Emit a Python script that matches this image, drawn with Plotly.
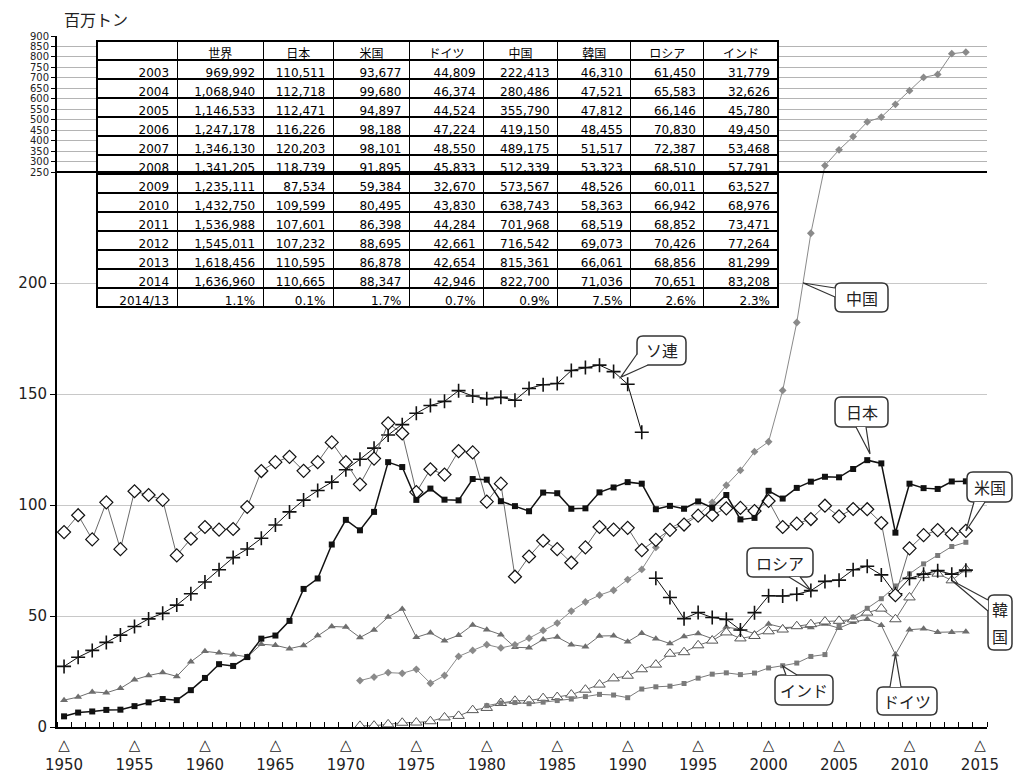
import plotly.graph_objects as go

# ---------------- data (million tonnes) ----------------
japan_1950_2002 = [4.8, 6.5, 7.0, 7.7, 7.8, 9.4, 11.1, 12.6, 12.1, 16.6, 22.1, 28.3, 27.5, 31.5, 39.8,
                   41.2, 47.8, 62.2, 66.9, 82.2, 93.3, 88.6, 96.9, 119.3, 117.1, 102.3, 107.4, 102.4,
                   102.1, 111.7, 111.4, 101.7, 99.5, 97.2, 105.6, 105.3, 98.3, 98.5, 105.7, 107.9,
                   110.3, 109.6, 98.1, 99.6, 98.3, 101.6, 98.8, 104.5, 93.5, 94.2, 106.4, 102.9, 107.7]
usa_1950_2002 = [87.8, 95.4, 84.5, 101.2, 80.1, 106.2, 104.5, 102.3, 77.3, 84.8, 90.1, 88.9, 89.2,
                 99.1, 115.3, 119.3, 121.7, 115.4, 119.3, 128.2, 119.3, 109.3, 120.9, 136.8, 132.2,
                 105.8, 116.1, 113.7, 124.3, 123.7, 101.5, 109.6, 67.7, 76.8, 83.9, 80.1, 74.0, 80.9,
                 90.1, 88.9, 89.7, 79.7, 84.3, 88.8, 91.2, 95.2, 95.5, 98.5, 98.7, 97.3, 101.8, 90.1, 91.6]
ussr_1950_1991 = [27.3, 31.4, 34.5, 38.1, 41.4, 45.3, 48.7, 51.2, 54.9, 60.0, 65.3, 70.8, 76.3, 80.2,
                  85.0, 91.0, 96.9, 102.2, 106.5, 110.3, 115.9, 120.6, 125.6, 131.5, 136.2, 141.3,
                  144.8, 146.7, 151.5, 149.1, 147.9, 148.5, 147.2, 152.5, 154.2, 154.7, 160.6, 161.9,
                  163.0, 160.1, 154.4, 132.8]
russia_1992_2002 = [67.0, 58.3, 48.8, 51.6, 49.3, 48.5, 43.7, 51.5, 59.1, 59.0, 59.8]
germany_1950_2002 = [12.1, 13.5, 15.8, 15.4, 17.4, 21.3, 23.2, 24.5, 22.8, 29.4, 34.1, 33.5, 32.6,
                     31.6, 37.3, 36.8, 35.3, 36.7, 41.2, 45.3, 45.0, 40.3, 43.7, 49.5, 53.2, 40.4,
                     42.4, 38.9, 41.3, 46.0, 43.8, 41.6, 35.9, 35.7, 39.4, 40.5, 37.1, 36.2, 41.0,
                     41.1, 38.4, 42.2, 39.7, 37.6, 40.8, 42.1, 39.8, 45.0, 44.0, 42.1, 46.4, 44.8, 45.0]
china_1971_2002 = [20.9, 22.5, 24.5, 24.2, 26.0, 19.7, 23.2, 31.8, 34.5, 37.1, 35.6, 37.0, 40.0, 43.5,
                   46.8, 52.2, 56.3, 59.4, 61.6, 66.4, 71.0, 80.9, 89.6, 92.6, 95.4, 101.2, 108.9,
                   115.6, 124.0, 128.5, 151.6, 182.2]
korea_1971_2002 = [0.5, 0.6, 1.2, 1.9, 2.0, 2.6, 4.3, 5.0, 7.6, 8.6, 10.8, 11.8, 11.9, 13.0, 13.5,
                   14.6, 16.8, 19.1, 21.9, 23.1, 26.0, 28.1, 33.0, 33.7, 36.8, 38.9, 42.6, 39.9, 41.0,
                   43.1, 43.9, 45.4]
india_1980_2002 = [9.6, 10.8, 11.0, 10.5, 11.2, 11.9, 12.6, 13.7, 14.7, 14.4, 13.2, 17.1, 18.1, 18.4,
                   19.6, 22.0, 23.8, 24.4, 23.6, 24.3, 26.6, 27.6, 28.8]

# table (thousand tonnes), 2003-2014
table_years = list(range(2003, 2015))
world_t = [969992, 1068940, 1146533, 1247178, 1346130, 1341205, 1235111, 1432750, 1536988, 1545011, 1618456, 1636960]
japan_t = [110511, 112718, 112471, 116226, 120203, 118739, 87534, 109599, 107601, 107232, 110595, 110665]
usa_t = [93677, 99680, 94897, 98188, 98101, 91895, 59384, 80495, 86398, 88695, 86878, 88347]
germany_t = [44809, 46374, 44524, 47224, 48550, 45833, 32670, 43830, 44284, 42661, 42654, 42946]
china_t = [222413, 280486, 355790, 419150, 489175, 512339, 573567, 638743, 701968, 716542, 815361, 822700]
korea_t = [46310, 47521, 47812, 48455, 51517, 53323, 48526, 58363, 68519, 69073, 66061, 71036]
russia_t = [61450, 65583, 66146, 70830, 72387, 68510, 60011, 66942, 68852, 70426, 68856, 70651]
india_t = [31779, 32626, 45780, 49450, 53468, 57791, 63527, 68976, 73471, 77264, 81299, 83208]

table_headers = ["", "世界", "日本", "米国", "ドイツ", "中国", "韓国", "ロシア", "インド"]
x_tick_years = list(range(1950, 2016, 5))
y_lower_ticks = [0, 50, 100, 150, 200]
y_upper_ticks = list(range(250, 901, 50))

# ---------------- broken y scale ----------------
BREAK = 250
K = (136 / 650) / (555 / 250)   # compression of the part above 250


def brk(v):
    return v if v <= BREAK else BREAK + (v - BREAK) * K


YMAX = brk(900)
XMIN, XMAX = 1949.5, 2015.5


def kt(lst):
    return [v / 1000 for v in lst]


def yrs(start, n):
    return list(range(start, start + n))


series = {
    "japan": (yrs(1950, 53 + 12), japan_1950_2002 + kt(japan_t)),
    "usa": (yrs(1950, 53 + 12), usa_1950_2002 + kt(usa_t)),
    "ussr": (yrs(1950, len(ussr_1950_1991)), ussr_1950_1991),
    "russia": (yrs(1992, 11 + 12), russia_1992_2002 + kt(russia_t)),
    "germany": (yrs(1950, 53 + 12), germany_1950_2002 + kt(germany_t)),
    "china": (yrs(1971, 32 + 12), china_1971_2002 + kt(china_t)),
    "korea": (yrs(1971, 32 + 12), korea_1971_2002 + kt(korea_t)),
    "india": (yrs(1980, 23 + 12), india_1980_2002 + kt(india_t)),
}

styles = {
    "germany": dict(line=dict(color="#6e6e6e", width=1),
                    marker=dict(symbol="triangle-up", size=7, color="#6e6e6e")),
    "korea": dict(line=dict(color="#6e6e6e", width=1),
                  marker=dict(symbol="triangle-up", size=10, color="white",
                              line=dict(color="#555555", width=1))),
    "india": dict(line=dict(color="#7a7a7a", width=1),
                  marker=dict(symbol="square", size=5, color="#7a7a7a")),
    "china": dict(line=dict(color="#8a8a8a", width=1),
                  marker=dict(symbol="diamond", size=6, color="#8a8a8a")),
    "russia": dict(line=dict(color="#111111", width=1),
                   marker=dict(symbol="cross-thin", size=10, line=dict(color="#111111", width=1.6))),
    "ussr": dict(line=dict(color="#111111", width=1),
                 marker=dict(symbol="cross-thin", size=10, line=dict(color="#111111", width=1.6))),
    "usa": dict(line=dict(color="#6a6a6a", width=1),
                marker=dict(symbol="diamond", size=10, color="white",
                            line=dict(color="#111111", width=1.2))),
    "japan": dict(line=dict(color="#111111", width=1.5),
                  marker=dict(symbol="square", size=6, color="#111111")),
}

FONT = "DejaVu Sans, Noto Sans CJK JP, sans-serif"
JFONT = "Noto Sans CJK JP, sans-serif"

fig = go.Figure()
for key in ["germany", "korea", "india", "china", "russia", "ussr", "usa", "japan"]:
    xs, vs = series[key]
    fig.add_trace(go.Scatter(x=xs, y=[brk(v) for v in vs], mode="lines+markers",
                             showlegend=False, hoverinfo="skip", **styles[key]))

# ---------------- geometry ----------------
# page body has an 8px margin: figure is placed at (8, 8); keep it inside the window
OFF = 8
W, H = 1022 - 2 * OFF, 781 - 2 * OFF
PLOT_L, PLOT_R, PLOT_T, PLOT_B = 57, 987, 36, 727        # plot area in window pixels
L, T = PLOT_L - OFF, PLOT_T - OFF
R, B = (OFF + W) - PLOT_R, (OFF + H) - PLOT_B
PW, PH = W - L - R, H - T - B


def px_x(p):
    return (p - PLOT_L) / PW


def px_y(p):
    return (PLOT_B - p) / PH


# ---------------- table ----------------
def fmt(lst):
    return [f"{v:,}" for v in lst]


cols_t = [world_t, japan_t, usa_t, germany_t, china_t, korea_t, russia_t, india_t]
cell_values = [[str(y) for y in table_years] + ["2014/13"]]
for c in cols_t:
    cell_values.append(fmt(c) + [f"{(c[-1] / c[-2] - 1) * 100:.1f}%"])

fig.add_trace(go.Table(
    domain=dict(x=[px_x(97), px_x(778)], y=[px_y(312), px_y(41)]),
    columnwidth=[80, 86, 70, 76, 74, 74, 73, 73, 74],
    header=dict(values=table_headers, height=19, align="center",
                font=dict(family=FONT, size=12, color="black"),
                line=dict(color="black", width=1.2), fill=dict(color="white")),
    cells=dict(values=cell_values, height=19, align="right",
               font=dict(family=FONT, size=12, color="black"),
               line=dict(color="black", width=1.2), fill=dict(color="white")),
))

# ---------------- layout ----------------
fig.update_layout(
    width=W, height=H,
    margin=dict(l=L, r=R, t=T, b=B, autoexpand=False),
    paper_bgcolor="white", plot_bgcolor="white",
    font=dict(family=FONT, color="#222222"),
    xaxis=dict(range=[XMIN, XMAX], tickmode="array", tickvals=x_tick_years,
               ticktext=[f"△<br>{y}" for y in x_tick_years], ticks="", automargin=False,
               ticklabelstandoff=3,
               tickfont=dict(size=15, color="#222222"),
               showline=True, linecolor="black", linewidth=2, showgrid=False, zeroline=False,
               minor=dict(tickmode="array", tickvals=[XMIN + i for i in range(67)],
                          ticks="inside", ticklen=5, tickcolor="black", tickwidth=1, showgrid=False)),
    yaxis=dict(range=[0, YMAX], tickmode="array", tickvals=y_lower_ticks,
               ticktext=[str(v) for v in y_lower_ticks], automargin=False,
               ticks="outside", ticklen=5, tickcolor="black",
               tickfont=dict(size=15, color="#222222"),
               showline=True, linecolor="black", linewidth=2,
               showgrid=True, gridcolor="#c8c8c8", gridwidth=1, zeroline=False),
    yaxis2=dict(range=[0, YMAX], overlaying="y", side="left", tickmode="array",
                tickvals=[brk(v) for v in y_upper_ticks], ticktext=[str(v) for v in y_upper_ticks],
                ticks="outside", ticklen=5, tickcolor="black", automargin=False,
                tickfont=dict(size=10, color="#222222"),
                showline=False, showgrid=True, gridcolor="#b4b4b4", gridwidth=1, zeroline=False),
)

# dummy trace so yaxis2 is drawn
fig.add_trace(go.Scatter(x=[None], y=[None], yaxis="y2", showlegend=False, hoverinfo="skip"))

fig.add_shape(type="line", xref="paper", x0=0, x1=1, yref="y", y0=BREAK, y1=BREAK,
              line=dict(color="black", width=2))

fig.add_annotation(text="百万トン", xref="paper", yref="paper", x=0.005, y=1,
                   xanchor="left", yanchor="bottom", yshift=3, showarrow=False,
                   font=dict(family=JFONT, size=16, color="#222222"))


# ---------------- callouts (rounded boxes with wedge pointers) ----------------
def data_px(year, val):
    return (PLOT_L + (year - XMIN) / (XMAX - XMIN) * (PLOT_R - PLOT_L),
            PLOT_B - brk(val) / YMAX * (PLOT_B - PLOT_T))


def P(x, y):
    return f"{px_x(x):.5f},{px_y(y):.5f}"


def rrect(x0, y0, x1, y1, r=6):
    return (f"M {P(x0 + r, y0)} L {P(x1 - r, y0)} Q {P(x1, y0)} {P(x1, y0 + r)} "
            f"L {P(x1, y1 - r)} Q {P(x1, y1)} {P(x1 - r, y1)} L {P(x0 + r, y1)} "
            f"Q {P(x0, y1)} {P(x0, y1 - r)} L {P(x0, y0 + r)} Q {P(x0, y0)} {P(x0 + r, y0)} Z")


# text lines, tip (year, value), box (x0, y0, x1, y1) in px, wedge base points in px
callouts = [
    (["中国"], (2002.45, 200), (835, 283, 888, 312), ((835, 288), (835, 297))),
    (["ソ連"], (1989.5, 157.5), (637, 336, 686, 365), ((637, 354), (648, 365))),
    (["日本"], (2007.2, 123), (835, 397, 888, 427), ((856, 427), (866, 427))),
    (["米国"], (2014, 88.3), (967, 472, 1012, 502), ((974, 502), (985, 502))),
    (["ロシア"], (2003, 61.5), (747, 548, 813, 577), ((789, 577), (800, 577))),
    (["韓", "国"], (2013, 66), (988, 595, 1012, 650), ((988, 600), (988, 611))),
    (["インド"], (2001, 27.5), (775, 675, 833, 705), ((786, 675), (797, 675))),
    (["ドイツ"], (2009, 32.7), (877, 687, 937, 715), ((890, 687), (901, 687))),
]
for lines, (ty, tv), (x0, y0, x1, y1), (a1, a2) in callouts:
    tx, tyy = data_px(ty, tv)
    fig.add_shape(type="path", xref="paper", yref="paper", path=rrect(x0, y0, x1, y1),
                  fillcolor="white", line=dict(color="#333333", width=1.5))
    fig.add_shape(type="path", xref="paper", yref="paper",
                  path=f"M {P(*a1)} L {P(tx, tyy)} L {P(*a2)} Z",
                  fillcolor="white", line=dict(width=0))
    fig.add_shape(type="path", xref="paper", yref="paper",
                  path=f"M {P(*a1)} L {P(tx, tyy)} L {P(*a2)}",
                  line=dict(color="#333333", width=1.2))
    n = len(lines)
    step = (y1 - y0) / n
    for i, t in enumerate(lines):
        fig.add_annotation(text=t, xref="paper", yref="paper",
                           x=px_x((x0 + x1) / 2), y=px_y(y0 + step * (i + 0.5)),
                           showarrow=False, xanchor="center", yanchor="middle",
                           font=dict(family=JFONT, size=16, color="#222222"))

fig.write_html("out.html")
